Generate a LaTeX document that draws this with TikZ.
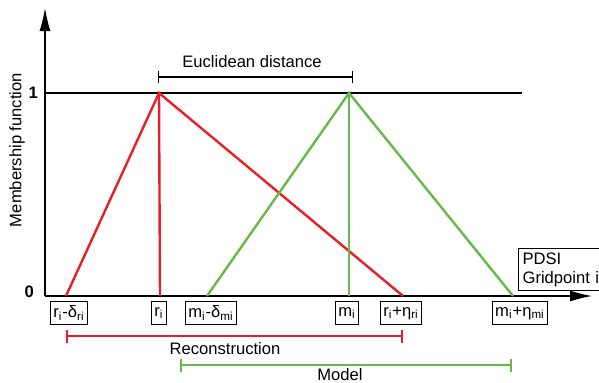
\documentclass[tikz,border=0pt]{standalone}
\usepackage{fontspec}
\setmainfont{Liberation Sans}
\usetikzlibrary{arrows.meta}
\definecolor{rred}{RGB}{232,30,40}
\definecolor{mgreen}{RGB}{104,186,72}
\tikzset{
    lab/.style={draw, line width=0.6pt, inner sep=1.5pt, minimum height=11.5pt, font=\fontsize{8.3}{9.5}\selectfont},
    txt/.style={font=\fontsize{8.3}{9.5}\selectfont},
    memb/.style={line width=1.2pt},
}
\begin{document}
\begin{tikzpicture}[x=0.5pt, y=-0.5pt]
    \useasboundingbox (0,0) rectangle (599,382);
    % axes
    \coordinate (O) at (45,296);
    \coordinate (ytop) at (45,8);
    \coordinate (xend) at (592,296);
    \coordinate (one) at (45,93);
    \coordinate (oneend) at (522,93);
    \draw[line width=0.6pt, -{Latex[length=11.5pt, width=5.5pt]}] (O) -- (ytop);
    \draw[line width=0.6pt, -{Latex[length=11pt, width=5.5pt]}] (O) -- (xend);
    \draw[line width=0.6pt] (one) -- (oneend);
    \node[txt, left, font=\fontsize{8.3}{9.5}\selectfont\bfseries] (lone) at (one) {1};
    \node[txt, left, font=\fontsize{8.3}{9.5}\selectfont\bfseries] (lzero) at (41,292) {0};
    \node[txt, rotate=90] (ylab) at (17,150) {Membership function};
    % reconstruction
    \coordinate (rL) at (66,296);
    \coordinate (rP) at (159,93);
    \coordinate (rB) at (160,296);
    \coordinate (rR) at (403,296);
    \draw[memb, rred] (rL) -- (rP) -- (rR);
    \draw[memb, rred] (rP) -- (rB);
    % model
    \coordinate (mL) at (207,296);
    \coordinate (mP) at (349,93);
    \coordinate (mB) at (349,296);
    \coordinate (mR) at (513,296);
    \draw[memb, mgreen] (mL) -- (mP) -- (mR);
    \draw[memb, mgreen] (mP) -- (mB);
    % distance
    \coordinate (dL) at (158,77);
    \coordinate (dR) at (353,77);
    \draw[line width=0.6pt, {Bar[width=6pt]}-{Bar[width=6pt]}] (dL) -- (dR);
    \node[txt] (dist) at (252,62) {Euclidean distance};
    % labels on the axis
    \node[lab] (lrL) at (69,313) {r\textsubscript{i}-δ\textsubscript{ri}};
    \node[lab] (lrB) at (159,313) {r\textsubscript{i}};
    \node[lab] (lmL) at (211,313) {m\textsubscript{i}-δ\textsubscript{mi}};
    \node[lab] (lmB) at (347,313) {m\textsubscript{i}};
    \node[lab] (lrR) at (401,313) {r\textsubscript{i}+η\textsubscript{ri}};
    \node[lab] (lmR) at (520,313) {m\textsubscript{i}+η\textsubscript{mi}};
    \node[lab, anchor=north west, text width=50pt, align=left, inner sep=2pt] (pdsi) at (518,248) {PDSI\\Gridpoint i};
    % ranges
    \coordinate (recL) at (66,336);
    \coordinate (recR) at (403,336);
    \draw[memb, rred, {Bar[width=6.5pt]}-{Bar[width=6.5pt]}] (recL) -- (recR);
    \node[txt] (rec) at (225,349) {Reconstruction};
    \coordinate (modL) at (180,365);
    \coordinate (modR) at (512,365);
    \draw[memb, mgreen, {Bar[width=6.5pt]}-{Bar[width=6.5pt]}] (modL) -- (modR);
    \node[txt] (mod) at (340,375) {Model};
\end{tikzpicture}
\end{document}
